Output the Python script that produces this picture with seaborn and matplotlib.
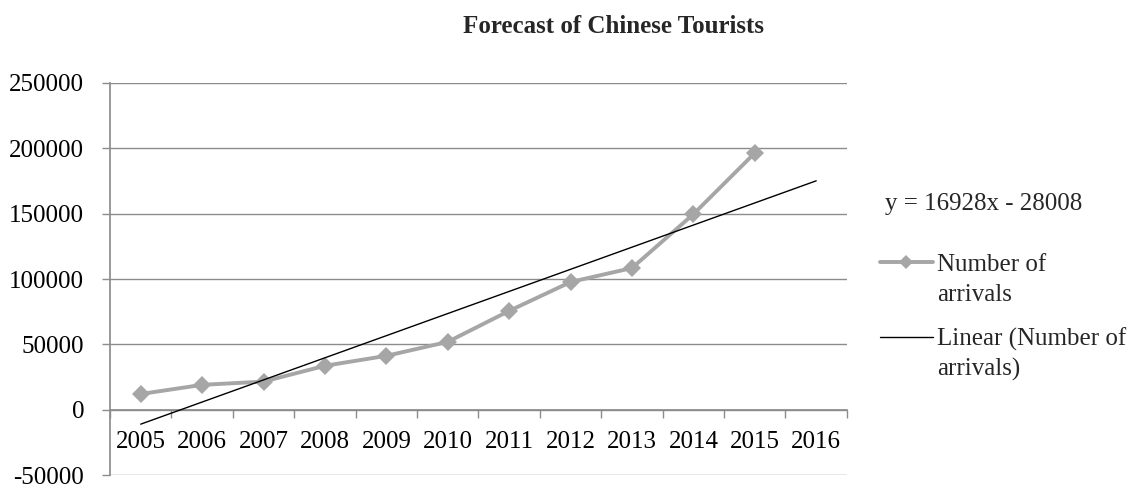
import numpy as np
import pandas as pd
import matplotlib
matplotlib.use("Agg")
import matplotlib.pyplot as plt
from matplotlib.lines import Line2D
import seaborn as sns

# Annual arrivals of Chinese tourists
years = ["2005", "2006", "2007", "2008", "2009", "2010",
         "2011", "2012", "2013", "2014", "2015", "2016"]
arrivals = [12000, 19000, 21500, 33600, 41200, 51900,
            75600, 97700, 108400, 149600, 196400]

# Linear trend fitted on period number (1 = 2005)
trend_slope = 16928
trend_intercept = -28008

y_ticks = [-50000, 0, 50000, 100000, 150000, 200000, 250000]

sns.set_theme(style="white")
plt.rcParams["font.family"] = ["Liberation Serif", "DejaVu Serif"]

grey = "#A6A6A6"
axis_grey = "#8C8C8C"
series_lw = 2.8

df = pd.DataFrame({"pos": np.arange(len(arrivals)), "arrivals": arrivals})
period = np.arange(1, len(years) + 1)
trend = pd.DataFrame({"pos": period - 1,
                      "value": trend_slope * period + trend_intercept})

fig = plt.figure(figsize=(11.46, 4.87), dpi=100)
ax = fig.add_axes([0.096, 0.0246, 0.643, 0.805])

sns.lineplot(data=df, x="pos", y="arrivals", ax=ax, color=grey,
             linewidth=series_lw, marker="D", markersize=9,
             markeredgewidth=0, zorder=3)
sns.lineplot(data=trend, x="pos", y="value", ax=ax, color="black",
             linewidth=1.0, zorder=4)

ax.set_xlim(-0.5, len(years) - 0.5)
ax.set_ylim(y_ticks[0], y_ticks[-1])
ax.set_yticks(y_ticks)
ax.set_yticklabels([str(v) for v in y_ticks])
ax.yaxis.grid(True, color=axis_grey, linewidth=1.0)
ax.xaxis.grid(False)
ax.set_xlabel("")
ax.set_ylabel("")

# category axis sits on the zero line
ax.spines["bottom"].set_position(("data", 0))
ax.spines["bottom"].set_color(axis_grey)
ax.spines["left"].set_color(axis_grey)
ax.spines["top"].set_visible(False)
ax.spines["right"].set_visible(False)

ax.set_xticks(np.arange(len(years)))
ax.set_xticklabels(years)
ax.set_xticks(np.arange(len(years) + 1) - 0.5, minor=True)
ax.tick_params(axis="x", which="major", length=0, pad=15.5, labelsize=18,
               colors="black")
ax.tick_params(axis="x", which="minor", length=6, width=1.0,
               color=axis_grey, direction="out", bottom=True)
ax.tick_params(axis="y", length=6, width=1.0, color=axis_grey,
               direction="out", left=True, pad=12.5, labelsize=18,
               labelcolor="black")

fig.text(0.535, 0.945, "Forecast of Chinese Tourists", ha="center",
         va="center", fontsize=18, fontweight="bold")

# trend equation and legend to the right of the plot
fig.text(0.772, 0.581, f"y = {trend_slope}x - {-trend_intercept}",
         fontsize=18, va="center", ha="left")

handle_x0, handle_x1, text_x = 0.768, 0.814, 0.818
entries = [
    # (handle height, label top, style, label)
    (0.462, 0.4775, dict(color=grey, linewidth=series_lw), True,
     "Number of\narrivals"),
    (0.308, 0.328, dict(color="black", linewidth=1.0), False,
     "Linear (Number of\narrivals)"),
]
for y_handle, y_text, style, with_marker, label in entries:
    fig.add_artist(Line2D([handle_x0, handle_x1], [y_handle, y_handle],
                          transform=fig.transFigure, **style))
    if with_marker:
        fig.add_artist(Line2D([(handle_x0 + handle_x1) / 2], [y_handle],
                              transform=fig.transFigure, marker="D",
                              markersize=7, markeredgewidth=0, color=grey,
                              linestyle="none"))
    fig.text(text_x, y_text, label, fontsize=18, ha="left",
             va="top", linespacing=1.42)

fig.savefig("out.png", dpi=100, facecolor="white")
